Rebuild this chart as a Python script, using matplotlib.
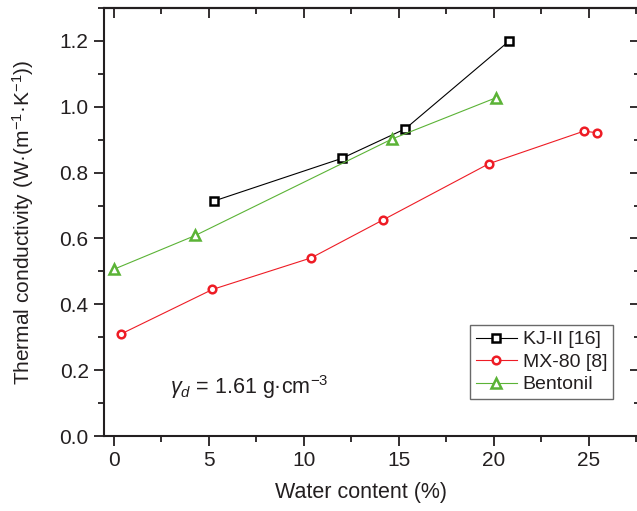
import matplotlib
matplotlib.use("Agg")
import matplotlib.pyplot as plt
from matplotlib.ticker import MultipleLocator

# ---- data ----
kj_x = [5.3, 12.0, 15.35, 20.8]
kj_y = [0.714, 0.843, 0.933, 1.199]
mx_x = [0.4, 5.2, 10.4, 14.2, 19.75, 24.75, 25.45]
mx_y = [0.310, 0.445, 0.541, 0.657, 0.827, 0.926, 0.921]
bt_x = [0.0, 4.3, 14.65, 20.15]
bt_y = [0.506, 0.609, 0.902, 1.028]
labels = ["KJ-II [16]", "MX-80 [8]", "Bentonil"]

TXT = "#231F20"
plt.rcParams['font.family'] = ['Liberation Sans', 'DejaVu Sans']
plt.rcParams['mathtext.fontset'] = 'custom'
plt.rcParams['mathtext.rm'] = 'Liberation Sans'
plt.rcParams['mathtext.it'] = 'Liberation Sans:italic'
plt.rcParams['axes.unicode_minus'] = True

W, H = 637, 511
fig = plt.figure(figsize=(W/100, H/100), dpi=100)
ax = fig.add_axes([104/W, (H-436)/H, (640-104)/W, (436-8)/H])

common = dict(lw=0.8, markersize=5.5, markeredgewidth=1.8, markerfacecolor='white')
ax.plot(kj_x, kj_y, color='black', marker='s', label=labels[0], **common)
ax.plot(mx_x, mx_y, color='#EE1C25', marker='o', label=labels[1], **common)
ax.plot(bt_x, bt_y, color='#5BB336', marker='^', label=labels[2],
        lw=0.8, markersize=7, markeredgewidth=1.8, markerfacecolor='white')

ax.set_xlim(-0.5, 27.7)
ax.set_ylim(0, 1.3)
ax.xaxis.set_major_locator(MultipleLocator(5))
ax.xaxis.set_minor_locator(MultipleLocator(2.5))
ax.yaxis.set_major_locator(MultipleLocator(0.2))
ax.yaxis.set_minor_locator(MultipleLocator(0.1))
ax.yaxis.set_major_formatter(plt.FuncFormatter(lambda v, p: f"{v:.1f}"))

for s in ax.spines.values():
    s.set_linewidth(1.5)
    s.set_color(TXT)

ax.tick_params(which='both', direction='out', color=TXT, width=1.3,
               labelsize=15, labelcolor=TXT, top=False, right=False)
ax.tick_params(which='major', length=7, pad=4)
ax.tick_params(which='minor', length=4)

top = ax.secondary_xaxis('top')
top.xaxis.set_major_locator(MultipleLocator(5))
top.xaxis.set_minor_locator(MultipleLocator(2.5))
top.tick_params(which='both', direction='in', labeltop=False, color=TXT, width=1.3)
top.tick_params(which='major', length=7)
top.tick_params(which='minor', length=4)
top.spines['top'].set_linewidth(1.5)

right = ax.secondary_yaxis('right')
right.yaxis.set_major_locator(MultipleLocator(0.2))
right.yaxis.set_minor_locator(MultipleLocator(0.1))
right.tick_params(which='both', direction='in', labelright=False, color=TXT, width=1.3)
right.tick_params(which='major', length=7)
right.tick_params(which='minor', length=4)

ax.set_xlabel("Water content (%)", fontsize=15.5, color=TXT)
ax.set_ylabel("Thermal conductivity (W·(m$^{-1}$·K$^{-1}$))", fontsize=15,
              color=TXT)
ax.xaxis.set_label_coords((361-104)/536, -0.108)
ax.yaxis.set_label_coords(-(104-36)/536, 0.5)

ax.text(2.95, 0.15, r"$\it{\gamma_d}$ = 1.61 g·cm$^{-3}$", fontsize=15.5,
        color=TXT, va='center', ha='left')

leg = ax.legend(loc='lower left', bbox_to_anchor=(0.683, 0.086), borderaxespad=0,
                fontsize=14, frameon=True, fancybox=False, handlelength=2.1,
                handletextpad=0.3, borderpad=0.3, labelspacing=0.25)
leg.get_frame().set_edgecolor('#444444')
leg.get_frame().set_linewidth(1.0)
for t in leg.get_texts():
    t.set_color(TXT)

fig.savefig("out.png", dpi=100)
